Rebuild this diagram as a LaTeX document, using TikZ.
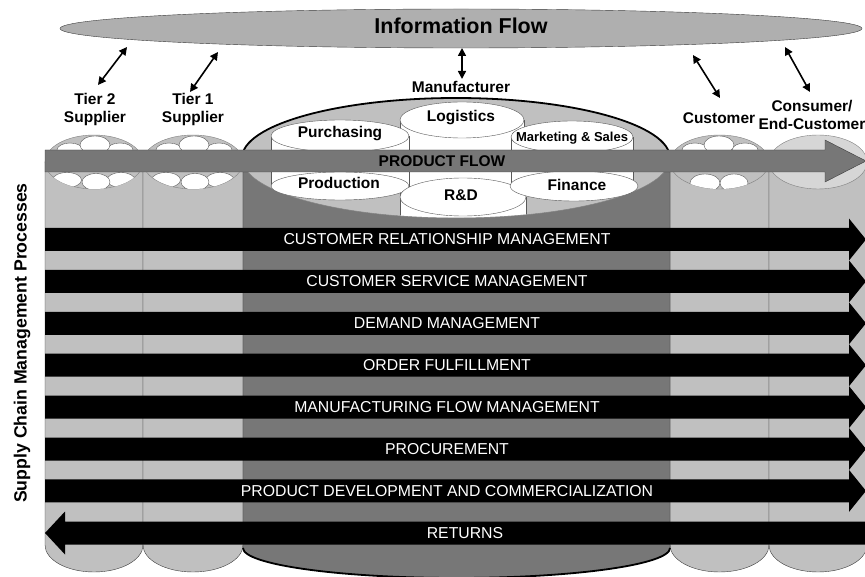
\documentclass[tikz,border=0pt]{standalone}
\usepackage{fontspec}
\setmainfont{Liberation Sans}
\usetikzlibrary{arrows.meta}
\definecolor{lightcol}{HTML}{C0C0C0}
\definecolor{darkcol}{HTML}{777777}
\definecolor{infocol}{HTML}{AFAFAF}
\definecolor{paletop}{HTML}{D6D6D6}
\definecolor{edgecol}{HTML}{3C3C3C}
\begin{document}
\begin{tikzpicture}[x=1pt,y=-1pt,
  colbody/.style={fill=lightcol,draw=edgecol,thin},
  mfbody/.style={fill=darkcol,draw=edgecol,thin},
  coltop/.style={fill=lightcol,draw=gray},
  bubble/.style={fill=white,draw=gray!70!black,thin},
  place/.style={align=center,font=\fontsize{15.5}{18}\selectfont\bfseries},
  dept/.style={font=\fontsize{15.5}{18}\selectfont\bfseries},
  proclabel/.style={text=white,font=\fontsize{15.8}{18}\selectfont},
  infoarrow/.style={{Triangle[length=8pt,width=8pt]}-{Triangle[length=8pt,width=8pt]},line width=1.6pt}]
  \useasboundingbox (0,0) rectangle (865,577);
  \clip (0,0) rectangle (865,577);

  % columns of the chain
  \foreach \cx/\rx in {94/49, 193/50, 719.5/49.5, 818/49}
    \filldraw[colbody] (\cx-\rx,162) -- (\cx-\rx,545) arc[start angle=180,end angle=0,x radius=\rx,y radius=27] -- (\cx+\rx,162) -- cycle;
  \filldraw[mfbody] (243,158) -- (243,548) arc[start angle=180,end angle=0,x radius=213.5,y radius=30] -- (670,158) -- cycle;
  \draw[line width=1.8pt] (243,548) arc[start angle=180,end angle=0,x radius=213.5,y radius=30];

  \foreach \cx/\rx in {94/49, 193/50, 719.5/49.5}
    \filldraw[coltop] (\cx,162) ellipse[x radius=\rx,y radius=27];
  \filldraw[coltop,fill=paletop] (818,162) ellipse[x radius=49,y radius=27];

  % bubbles on the small tops
  \foreach \cx in {94,193}{
    \begin{scope}
      \clip (\cx,162) ellipse[x radius=49,y radius=27];
      \foreach \dx/\dy/\bx/\by in {-24/150/13/7, 26/150/13/7, 1/145/15/9, -27/180/14.5/7.5, 27/180/14/7.5, 2/182/14/8.5}
        \filldraw[bubble] ({\cx+(\dx)},\dy) ellipse[x radius=\bx,y radius=\by];
    \end{scope}
  }
  \begin{scope}
    \clip (719.5,162) ellipse[x radius=49.5,y radius=27];
    \foreach \bxc/\byc/\bx/\by in {695/150/13/7, 745/150/13/7, 719/145/15/9, 705/183/15/9, 734/183/14/9}
      \filldraw[bubble] (\bxc,\byc) ellipse[x radius=\bx,y radius=\by];
  \end{scope}

  % manufacturer top
  \filldraw[fill=lightcol,draw=gray] (456,158) ellipse[x radius=214,y radius=60];
  \draw[line width=1.8pt] (242,158) arc[start angle=180,end angle=360,x radius=214,y radius=60];

  \filldraw[bubble] (400,120) rectangle (524,197);
  \filldraw[bubble] (462,120) ellipse[x radius=62,y radius=18];
  \node[dept] (logistics) at (461,118) {Logistics};
  \filldraw[bubble] (271,136) rectangle (409,186);
  \filldraw[bubble] (340,136) ellipse[x radius=69,y radius=16];
  \node[dept] (purchasing) at (340,134) {Purchasing};
  \filldraw[bubble] (511,137) rectangle (633,186);
  \filldraw[bubble] (572,137) ellipse[x radius=61,y radius=16];
  \node[dept,font=\fontsize{13}{15}\selectfont\bfseries] (marketing) at (572,138) {Marketing \& Sales};
  \filldraw[bubble] (340,186) ellipse[x radius=69,y radius=14];
  \node[dept] (production) at (339,183) {Production};
  \begin{scope}
    \clip (456,158) ellipse[x radius=214,y radius=59.5];
    \filldraw[bubble] (400,197) rectangle (526,230);
  \end{scope}
  \filldraw[bubble] (463,197) ellipse[x radius=63,y radius=19];
  \node[dept] (rnd) at (461,195) {R\&D};
  \filldraw[bubble] (574,186) ellipse[x radius=64,y radius=15];
  \node[dept] (finance) at (577,185) {Finance};

  % product flow
  \filldraw[fill=darkcol,draw=edgecol] (45,150) -- (825,150) -- (825,140) -- (866,161) -- (825,182) -- (825,172) -- (45,172) -- cycle;
  \node[dept] (productflow) at (442,161) {PRODUCT FLOW};

  % processes
  \foreach \y/\txt [count=\i] in {239.5/CUSTOMER RELATIONSHIP MANAGEMENT, 281.4/CUSTOMER SERVICE MANAGEMENT,
      323.3/DEMAND MANAGEMENT, 365.2/ORDER FULFILLMENT, 407.1/MANUFACTURING FLOW MANAGEMENT,
      449/PROCUREMENT, 490.9/PRODUCT DEVELOPMENT AND COMMERCIALIZATION}{
    \fill (45,\y-11.5) -- (849,\y-11.5) -- (849,\y-21) -- (866,\y) -- (849,\y+21) -- (849,\y+11.5) -- (45,\y+11.5) -- cycle;
    \node[proclabel] (proc\i) at (447,\y) {\txt};
  }
  \fill (45,533) -- (65,511.5) -- (65,521.5) -- (870,521.5) -- (870,544.5) -- (65,544.5) -- (65,554.5) -- cycle;
  \node[proclabel] (returns) at (465,533) {RETURNS};

  \node[rotate=90,font=\fontsize{17.7}{20}\selectfont\bfseries] (scm) at (22,343) {Supply Chain Management Processes};

  % information flow
  \filldraw[fill=infocol,draw=edgecol] (461,28.5) ellipse[x radius=401,y radius=19.5];
  \node[font=\fontsize{21.5}{24}\selectfont\bfseries] (info) at (461,26) {Information Flow};

  \node[place] (tiertwo) at (95,109) {Tier 2\\Supplier};
  \node[place] (tierone) at (193,109) {Tier 1\\Supplier};
  \node[place] (manufacturer) at (461,87) {Manufacturer};
  \node[place] (customer) at (719,118) {Customer};
  \node[place] (consumer) at (812,115) {Consumer/\\End-Customer};

  \coordinate (t2low) at (98,85);   \coordinate (t2up) at (127,47);
  \coordinate (t1low) at (190,92);  \coordinate (t1up) at (218,52);
  \coordinate (mflow) at (462,79);  \coordinate (mfup) at (462,48);
  \coordinate (culow) at (720,98);  \coordinate (cuup) at (693,55);
  \coordinate (cnlow) at (810,92);  \coordinate (cnup) at (785,47);
  \draw[infoarrow] (t2low) -- (t2up);
  \draw[infoarrow] (t1low) -- (t1up);
  \draw[infoarrow] (mflow) -- (mfup);
  \draw[infoarrow] (culow) -- (cuup);
  \draw[infoarrow] (cnlow) -- (cnup);
\end{tikzpicture}
\end{document}
